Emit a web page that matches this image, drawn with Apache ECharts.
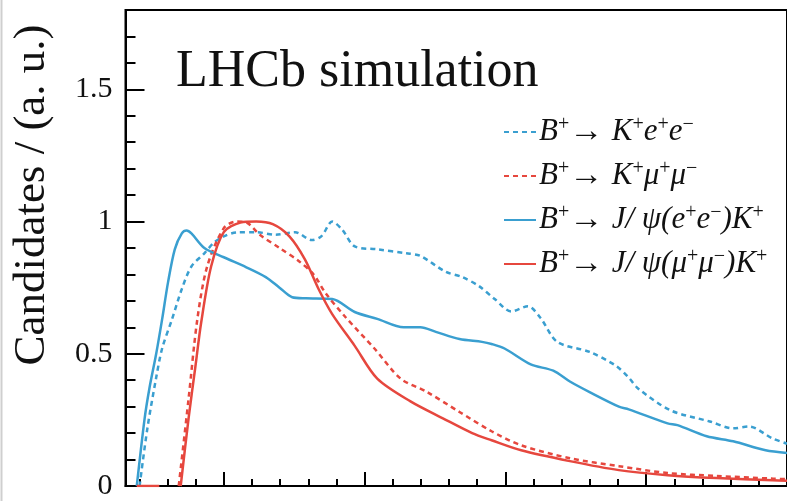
<!DOCTYPE html>
<html>
<head>
<meta charset="utf-8">
<script src="https://cdn.jsdelivr.net/npm/echarts@6/dist/echarts.min.js"></script>
<style>
html,body{margin:0;padding:0;background:#fff;}
#c{width:787px;height:501px;}
</style>
</head>
<body>
<div id="c"></div>
<script>
// ---- data (x in axis units, y in a.u.) ----
const xJpsiEE = [1.91,2.19,2.36,2.60,2.81,3.02,3.26,3.51,3.68,3.85,4.31,5.00,5.80,6.49,6.98,7.43,7.92,8.85,9.65,10.45,11.39,11.98,12.53,13.37,14.17,14.51,14.97,15.90,16.70,17.29,17.99,19.03,19.38,20.76,21.11,22.15,23.09,24.24,25.00];
const yJpsiEE = [0,0.256,0.37,0.50,0.63,0.77,0.895,0.955,0.966,0.955,0.90,0.865,0.827,0.79,0.75,0.714,0.71,0.707,0.658,0.632,0.60,0.60,0.583,0.556,0.545,0.537,0.52,0.46,0.436,0.395,0.355,0.30,0.29,0.237,0.23,0.188,0.169,0.135,0.125];

const xKee = [2.01,2.29,2.60,2.81,3.16,3.51,3.85,4.31,4.65,5.00,5.45,6.15,6.84,7.53,8.13,8.47,8.85,9.20,9.65,10.45,11.49,11.98,12.88,13.47,14.06,14.62,15.21,15.80,16.25,16.84,17.99,18.92,19.38,19.72,20.87,22.26,23.09,23.65,24.48,25.00];
const yKee = [0,0.22,0.41,0.52,0.63,0.745,0.83,0.88,0.92,0.944,0.959,0.96,0.95,0.96,0.93,0.945,1.0,0.97,0.906,0.895,0.88,0.87,0.81,0.79,0.756,0.707,0.66,0.68,0.635,0.545,0.507,0.455,0.41,0.368,0.286,0.244,0.218,0.225,0.18,0.16];

const xJpsiMM = [1.91,2.71,3.10,3.47,3.75,3.99,4.20,4.55,5.00,5.59,6.15,6.74,7.33,7.88,8.37,8.85,9.65,10.45,11.63,12.78,13.82,14.51,15.56,17.29,19.03,20.76,22.50,24.48,25.00];
const yJpsiMM = [0,0,null,0,0.256,0.45,0.62,0.83,0.96,0.996,1.0,0.99,0.944,0.857,0.744,0.65,0.53,0.406,0.32,0.256,0.20,0.173,0.135,0.094,0.06,0.041,0.03,0.022,0.02];

const xKmm = [3.40,3.75,4.06,4.41,5.00,5.45,5.83,6.28,6.98,7.67,8.19,8.61,9.31,10.35,11.28,12.19,13.37,14.51,15.56,17.29,19.03,20.76,22.50,24.48,25.00];
const yKmm = [0,0.33,0.63,0.83,0.975,1.0,0.995,0.95,0.9,0.85,0.8,0.73,0.64,0.52,0.406,0.357,0.28,0.207,0.154,0.105,0.075,0.049,0.038,0.028,0.026];

const seriesNames = ['B⁺→ K⁺e⁺e⁻','B⁺→ K⁺μ⁺μ⁻','B⁺→ J/ ψ(e⁺e⁻)K⁺','B⁺→ J/ ψ(μ⁺μ⁻)K⁺'];
const legendRich = [
  '{n|B}{p|+}{a|→ }{n|K}{p|+}{n|e}{p|+}{n|e}{p|−}',
  '{n|B}{p|+}{a|→ }{n|K}{p|+}{n|μ}{p|+}{n|μ}{p|−}',
  '{n|B}{p|+}{a|→ }{n|J/ ψ(e}{p|+}{n|e}{p|−}{n|)K}{p|+}',
  '{n|B}{p|+}{a|→ }{n|J/ ψ(μ}{p|+}{n|μ}{p|−}{n|)K}{p|+}'
];
const yMajorTicks = [0,0.5,1,1.5];
const yMinorTicks = [0.1,0.2,0.3,0.4,0.6,0.7,0.8,0.9,1.1,1.2,1.3,1.4,1.6,1.7];
const xMinorTicks = [2,3,4,5,6,7,8,9,10,11,12,13,14,15,16,17,18,19,20,21,22,23,24];
const xMajorTicks = [5,10,15,20];

function zip(xs, ys){ return xs.map((x,i)=>[x, ys[i]]); }

const FONT = "'Liberation Serif','Times New Roman',serif";
const BLUE = '#3a9fd0';
const RED = '#e6473e';
const XMIN = 1.51, XMAX = 25;

const chart = echarts.init(document.getElementById('c'), null, {renderer:'canvas'});
const option = {
  backgroundColor:'#fff',
  animation:false,
  grid:{left:125.5, top:10, width:676.5, height:478, show:true, borderColor:'#000', borderWidth:2, backgroundColor:'transparent'},
  xAxis:[
    {type:'value', min:XMIN, max:XMAX, position:'bottom',
     axisLine:{show:true, lineStyle:{color:'#000', width:2}},
     axisTick:{show:true, inside:true, length:7, customValues:xMinorTicks, lineStyle:{color:'#000', width:2}},
     axisLabel:{show:false}, splitLine:{show:false}},
    {type:'value', min:XMIN, max:XMAX, position:'bottom', offset:0,
     axisLine:{show:false},
     axisTick:{show:true, inside:true, length:14, customValues:xMajorTicks, lineStyle:{color:'#000', width:2}},
     axisLabel:{show:false}, splitLine:{show:false}}
  ],
  yAxis:[
    {type:'value', min:0, max:1.8, position:'left',
     axisLine:{show:true, lineStyle:{color:'#000', width:2}},
     axisTick:{show:true, inside:true, length:19, customValues:yMajorTicks, lineStyle:{color:'#000', width:2}},
     axisLabel:{show:true, customValues:yMajorTicks, margin:13, color:'#111', fontFamily:FONT, fontSize:30,
       formatter:v=>String(v)},
     splitLine:{show:false}},
    {type:'value', min:0, max:1.8, position:'left', offset:0,
     axisLine:{show:false},
     axisTick:{show:true, inside:true, length:10, customValues:yMinorTicks, lineStyle:{color:'#000', width:2}},
     axisLabel:{show:false}, splitLine:{show:false}}
  ],
  legend:{
    orient:'vertical', left:498, top:110, itemWidth:32, itemHeight:14, itemGap:10,
    itemStyle:{opacity:0, borderWidth:0},
    data:seriesNames,
    formatter:name=>legendRich[seriesNames.indexOf(name)],
    textStyle:{fontFamily:FONT, fontSize:31, color:'#111', padding:[0,0,0,-2],
      rich:{
        n:{fontFamily:FONT, fontSize:31, fontStyle:'italic', color:'#111', lineHeight:34},
        a:{fontFamily:FONT, fontSize:34, color:'#111', lineHeight:34},
        p:{fontFamily:FONT, fontSize:20, color:'#111', verticalAlign:'top', lineHeight:22}
      }}
  },
  series:[
    {name:seriesNames[0], type:'line', data:zip(xKee,yKee), symbol:'none', smooth:0.3,
     lineStyle:{color:BLUE, width:2.5, type:[5,4]}, itemStyle:{color:BLUE}, z:3},
    {name:seriesNames[1], type:'line', data:zip(xKmm,yKmm), symbol:'none', smooth:0.3,
     lineStyle:{color:RED, width:2.5, type:[5,4]}, itemStyle:{color:RED}, z:3},
    {name:seriesNames[2], type:'line', data:zip(xJpsiEE,yJpsiEE), symbol:'none', smooth:0.3,
     lineStyle:{color:BLUE, width:2.5}, itemStyle:{color:BLUE}, z:3},
    {name:seriesNames[3], type:'line', data:zip(xJpsiMM,yJpsiMM), symbol:'none', smooth:0.3, connectNulls:false,
     lineStyle:{color:RED, width:2.5}, itemStyle:{color:RED}, z:3}
  ],
  graphic:[
    {type:'text', left:176, top:46, style:{text:'LHCb simulation', font:"52px 'Liberation Serif','Times New Roman',serif", fill:'#111'}},
    {type:'text', x:32, y:195, rotation:Math.PI/2, style:{text:'Candidates / (a. u.)', font:"45px 'Liberation Serif','Times New Roman',serif", fill:'#111', align:'center', verticalAlign:'middle'}},
    {type:'line', shape:{x1:1.5, y1:0, x2:1.5, y2:501}, style:{stroke:'#cfcfcf', lineWidth:2}}
  ]
};
chart.setOption(option);
</script>
</body>
</html>
